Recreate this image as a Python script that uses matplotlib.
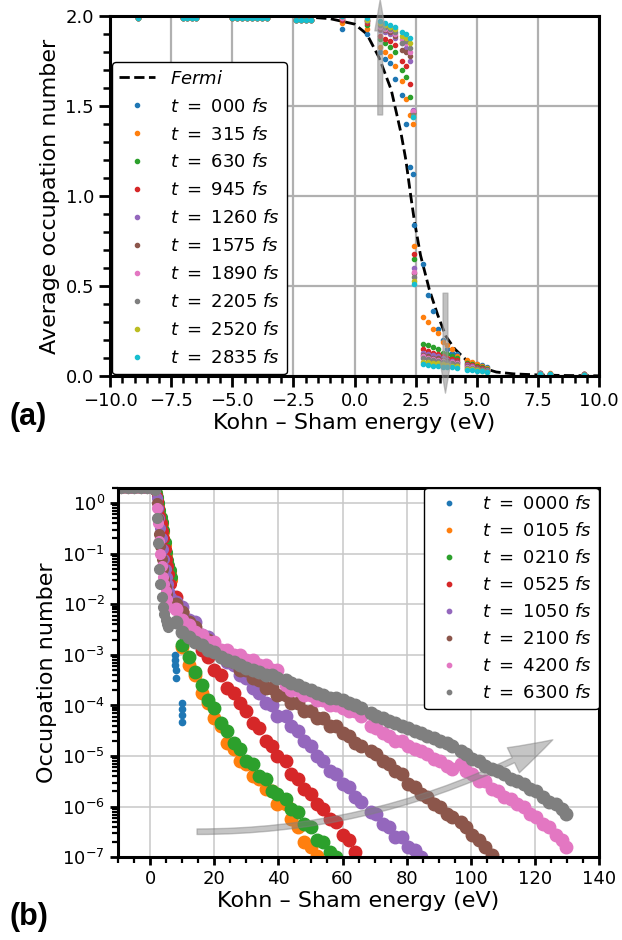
import numpy as np
import matplotlib
matplotlib.use("Agg")
import matplotlib.pyplot as plt
from matplotlib.ticker import MultipleLocator, LogLocator, NullFormatter
from matplotlib.patches import FancyArrowPatch

# ---------------- panel (a) data ----------------
top_labels = [r"$t\ =\ 000\ fs$", r"$t\ =\ 315\ fs$", r"$t\ =\ 630\ fs$",
              r"$t\ =\ 945\ fs$", r"$t\ =\ 1260\ fs$", r"$t\ =\ 1575\ fs$",
              r"$t\ =\ 1890\ fs$", r"$t\ =\ 2205\ fs$", r"$t\ =\ 2520\ fs$",
              r"$t\ =\ 2835\ fs$"]

fermi_E = [-10, -8, -6, -4, -2, -1, 0, 0.5, 1.0, 1.5, 1.9, 2.1, 2.3, 2.45, 2.7,
           3.06, 3.4, 3.74, 4.1, 4.56, 5.0, 5.8, 6.5, 7.5, 8.5, 10]
fermi_occ = [2.0, 2.0, 2.0, 2.0, 1.995, 1.985, 1.955, 1.9, 1.77, 1.59, 1.35, 1.2,
             1.0, 0.86, 0.67, 0.48, 0.34, 0.22, 0.15, 0.09, 0.055, 0.022, 0.012,
             0.006, 0.003, 0.001]

deep_E = [-8.86, -7.0, -6.85, -6.65, -6.5, -5.0, -4.8, -4.6, -4.4, -4.2, -4.0,
          -3.8, -3.6, -2.4, -2.2, -2.0, -1.8]
deep_occ = [1.99, 1.99, 1.99, 1.99, 1.99, 1.99, 1.99, 1.99, 1.99, 1.99, 1.99,
            1.99, 1.99, 1.98, 1.98, 1.98, 1.98]

val_E = [-0.5, 0.5, 1.05, 1.25, 1.45, 1.65, 1.95, 2.1, 2.25, 2.38, 2.42, 2.8, 3.0,
         3.2, 3.4, 3.6, 3.8, 4.0, 4.2, 4.6, 4.8, 5.0, 5.2, 5.4, 7.6, 8.0, 9.4]
occ_t000 = [1.93, 1.90, 1.80, 1.76, 1.74, 1.65, 1.56, 1.40, 1.16, 1.12, 0.84, 0.62, 0.45,
            0.36, 0.26, 0.20, 0.15, 0.13, 0.12, 0.085, 0.07, 0.065, 0.06, 0.05, 0.012, 0.01, 0.008]
occ_t315 = [1.96, 1.93, 1.83, 1.80, 1.78, 1.72, 1.64, 1.54, 1.45, 1.40, 0.72, 0.33, 0.30,
            0.26, 0.24, 0.19, 0.17, 0.15, 0.11, 0.09, 0.08, 0.065, 0.055, 0.045, 0.018, 0.015, 0.012]
occ_t630 = [1.98, 1.95, 1.87, 1.85, 1.83, 1.80, 1.70, 1.66, 1.55, 1.46, 0.65, 0.18, 0.17,
            0.16, 0.15, 0.13, 0.12, 0.11, 0.10, 0.07, 0.065, 0.055, 0.05, 0.04, 0.016, 0.013, 0.011]
occ_t945 = [1.98, 1.96, 1.89, 1.87, 1.86, 1.84, 1.75, 1.72, 1.62, 1.47, 0.68, 0.15, 0.14,
            0.13, 0.12, 0.11, 0.10, 0.095, 0.09, 0.065, 0.06, 0.05, 0.045, 0.035, 0.015, 0.012, 0.010]
occ_t1260 = [1.99, 1.97, 1.92, 1.91, 1.90, 1.88, 1.85, 1.82, 1.75, 1.48, 0.60, 0.13, 0.12,
             0.115, 0.11, 0.10, 0.09, 0.085, 0.08, 0.06, 0.055, 0.045, 0.04, 0.032, 0.014, 0.012, 0.01]
occ_t1575 = [1.99, 1.97, 1.93, 1.92, 1.91, 1.89, 1.81, 1.80, 1.78, 1.46, 0.57, 0.115, 0.11,
             0.10, 0.10, 0.09, 0.085, 0.08, 0.075, 0.055, 0.05, 0.042, 0.038, 0.03, 0.013, 0.011, 0.01]
occ_t1890 = [1.99, 1.98, 1.94, 1.93, 1.92, 1.90, 1.87, 1.85, 1.80, 1.47, 0.58, 0.11, 0.10,
             0.095, 0.09, 0.085, 0.08, 0.075, 0.07, 0.05, 0.048, 0.04, 0.035, 0.028, 0.012, 0.01, 0.009]
occ_t2205 = [2.0, 1.98, 1.95, 1.94, 1.93, 1.91, 1.85, 1.86, 1.82, 1.45, 0.55, 0.10, 0.095,
             0.09, 0.085, 0.08, 0.075, 0.07, 0.065, 0.045, 0.045, 0.038, 0.033, 0.026, 0.012, 0.01, 0.009]
occ_t2520 = [2.0, 1.98, 1.96, 1.95, 1.94, 1.93, 1.89, 1.88, 1.85, 1.44, 0.53, 0.08, 0.075,
             0.07, 0.07, 0.065, 0.06, 0.058, 0.055, 0.04, 0.04, 0.034, 0.03, 0.024, 0.011, 0.009, 0.008]
occ_t2835 = [2.0, 1.99, 1.97, 1.96, 1.95, 1.94, 1.91, 1.90, 1.88, 1.44, 0.51, 0.065, 0.06,
             0.058, 0.055, 0.052, 0.05, 0.048, 0.045, 0.035, 0.035, 0.03, 0.027, 0.022, 0.01, 0.009, 0.008]
top_series = [occ_t000, occ_t315, occ_t630, occ_t945, occ_t1260, occ_t1575,
              occ_t1890, occ_t2205, occ_t2520, occ_t2835]

# ---------------- panel (b) data ----------------
bot_labels = [r"$t\ =\ 0000\ fs$", r"$t\ =\ 0105\ fs$", r"$t\ =\ 0210\ fs$",
              r"$t\ =\ 0525\ fs$", r"$t\ =\ 1050\ fs$", r"$t\ =\ 2100\ fs$",
              r"$t\ =\ 4200\ fs$", r"$t\ =\ 6300\ fs$"]

steep_E = [-9.0, -7.0, -5.0, -3.0, -1.0, 0.5, 1.3, 1.6, 2.0, 2.4, 2.8, 3.2, 3.6, 4.0,
           4.4, 4.8, 5.2, 5.6, 6.0, 6.4, 6.8]
nan = np.nan
steep_t0000 = [2.0, 2.0, 2.0, 2.0, 2.0, 2.0, 2.0, 1.8, 1.58, 1.26, 1.0, 0.71, 0.5, 0.4,
               0.28, 0.16, 0.1, 0.071, 0.056, 0.045, 0.032]
steep_t0105 = [2.0, 2.0, 2.0, 2.0, 2.0, 2.0, 2.0, 1.8, 1.55, 1.2, 0.95, 0.68, 0.48, 0.38,
               0.27, 0.15, 0.095, 0.068, 0.052, 0.042, 0.03]
steep_t0210 = [2.0, 2.0, 2.0, 2.0, 2.0, 2.0, 2.0, 1.8, 1.6, 1.3, 1.02, 0.74, 0.52, 0.42,
               0.3, 0.17, 0.11, 0.075, 0.06, 0.048, 0.035]
steep_t0525 = [2.0, 2.0, 2.0, 2.0, 2.0, 2.0, 2.0, 1.8, 1.41, 1.12, 0.79, 0.56, 0.4, 0.28,
               0.2, 0.126, 0.079, 0.056, 0.04, 0.025, 0.014]
steep_t1050 = [2.0, 2.0, 2.0, 2.0, 2.0, 2.0, 2.0, 1.8, 1.26, 0.79, 0.5, 0.32, 0.2, 0.126,
               0.079, 0.05, 0.035, 0.025, 0.018, 0.014, nan]
steep_t2100 = [2.0, 2.0, 2.0, 2.0, 2.0, 2.0, 2.0, 1.8, 1.0, 0.5, 0.25, 0.14, 0.079, 0.05,
               0.032, 0.022, 0.016, 0.011, nan, nan, nan]
steep_t4200 = [2.0, 2.0, 2.0, 2.0, 2.0, 2.0, 2.0, 1.8, 0.79, 0.4, 0.18, 0.1, 0.056, 0.035,
               0.025, 0.018, 0.0126, 0.0089, nan, nan, nan]
steep_t6300 = [2.0, 2.0, 2.0, 2.0, 2.0, 2.0, 2.0, 1.8, 0.5, 0.16, 0.05, 0.025, 0.014, 0.0089,
               0.0063, 0.005, 0.004, 0.0035, nan, nan, nan]

tail_E = [8, 10, 12, 14, 16, 18, 20, 22, 24, 26, 28, 30, 32, 34, 36, 38, 39.5, 42.2,
          44, 46, 48, 50, 52, 54, 56, 58, 60, 62, 64, 65.9, 68.8, 70.5, 72.5, 74.5,
          76.5, 78.5, 80.5, 82.5, 84.5, 86.5, 88.5, 90.5, 92.5, 94.0, 96.8, 98.5,
          100.5, 102.5, 104.5, 106.5, 108.5, 110.5, 112.5, 114.5, 116.5, 118.5,
          120.5, 122.5, 124.5, 126.5, 128.5, 129.8]
blue_E = [7.7, 7.8, 7.8, 7.9, 7.9, 9.8, 9.9, 9.9, 10.0]
tail_t0000 = [1.0e-3, 7.9e-4, 6.3e-4, 5.0e-4, 3.5e-4, 1.1e-4, 8.5e-5, 6.5e-5, 4.8e-5]
tail_t0105 = [nan, 1.41e-3, 6.3e-4, 3.98e-4, 1.78e-4, 1.12e-4, 5.6e-5, 3.98e-5, 1.78e-5,
              1.41e-5, 7.9e-6, 7.1e-6, 4.0e-6, 3.55e-6, 2.24e-6, 2.0e-6, 1.12e-6, 1.12e-6,
              5.6e-7, 4.0e-7, 2.0e-7, 1.58e-7, 1.05e-7]
tail_t0210 = [nan, 1.58e-3, 8.9e-4, 4.5e-4, 2.5e-4, 1.26e-4, 8.9e-5, 4.5e-5, 3.16e-5,
              1.78e-5, 1.41e-5, 7.9e-6, 7.1e-6, 4.0e-6, 3.55e-6, 2.0e-6, 1.78e-6, 1.41e-6,
              8.9e-7, 7.9e-7, 4.5e-7, 4.0e-7, 2.24e-7, 2.0e-7, 1.26e-7, 1.0e-7]
tail_t0525 = [1.41e-2, 7.1e-3, 3.55e-3, 2.5e-3, 1.26e-3, 8.9e-4, 5.0e-4, 3.98e-4, 2.24e-4,
              1.78e-4, 1.12e-4, 7.9e-5, 4.5e-5, 3.55e-5, 2.0e-5, 1.58e-5, 1.0e-5, 7.9e-6,
              4.5e-6, 3.55e-6, 2.24e-6, 1.78e-6, 1.12e-6, 8.9e-7, 5.6e-7, 5.0e-7, 2.8e-7,
              2.24e-7, 1.26e-7]
tail_t1050 = [1.12e-2, 8.9e-3, 5.0e-3, 4.5e-3, 2.5e-3, 2.24e-3, 1.26e-3, 1.12e-3, 7.1e-4,
              6.3e-4, 3.98e-4, 3.55e-4, 2.24e-4, 1.78e-4, 1.12e-4, 1.0e-4, 6.3e-5, 6.3e-5,
              3.98e-5, 3.16e-5, 2.0e-5, 1.58e-5, 1.0e-5, 7.9e-6, 5.0e-6, 4.5e-6, 2.8e-6,
              2.5e-6, 1.58e-6, 1.26e-6, 7.9e-7, 7.1e-7, 4.5e-7, 4.0e-7, 2.5e-7, 2.5e-7,
              1.58e-7, 1.41e-7, 1.0e-7]
tail_t2100 = [1.0e-2, 7.1e-3, 4.5e-3, 3.55e-3, 2.24e-3, 2.0e-3, 1.26e-3, 1.12e-3, 7.9e-4,
              7.1e-4, 5.0e-4, 5.0e-4, 3.55e-4, 3.16e-4, 2.24e-4, 2.24e-4, 1.58e-4, 1.58e-4,
              1.12e-4, 1.12e-4, 7.9e-5, 7.9e-5, 5.6e-5, 5.6e-5, 3.98e-5, 3.98e-5, 2.8e-5,
              2.5e-5, 1.78e-5, 1.58e-5, 1.26e-5, 1.12e-5, 7.9e-6, 7.1e-6, 5.0e-6, 4.5e-6,
              2.8e-6, 2.5e-6, 1.78e-6, 1.58e-6, 1.12e-6, 1.0e-6, 7.1e-7, 6.3e-7, 5.0e-7,
              4.0e-7, 2.8e-7, 2.24e-7, 1.58e-7, 1.12e-7]
tail_t4200 = [7.9e-3, 5.0e-3, 3.98e-3, 2.8e-3, 2.5e-3, 1.78e-3, 1.78e-3, 1.26e-3, 1.26e-3,
              1.0e-3, 1.0e-3, 7.9e-4, 7.9e-4, 6.3e-4, 6.3e-4, 5.0e-4, 5.0e-4, 2.5e-4,
              2.0e-4, 2.0e-4, 1.58e-4, 1.58e-4, 1.26e-4, 1.26e-4, 1.0e-4, 1.0e-4, 8.9e-5,
              7.9e-5, 7.9e-5, 6.3e-5, 3.98e-5, 3.55e-5, 2.8e-5, 2.5e-5, 2.0e-5, 2.0e-5,
              1.58e-5, 1.41e-5, 1.26e-5, 1.12e-5, 8.9e-6, 7.9e-6, 6.3e-6, 5.6e-6, 7.1e-6,
              5.0e-6, 4.5e-6, 3.16e-6, 3.16e-6, 2.24e-6, 2.0e-6, 1.58e-6, 1.41e-6, 1.12e-6,
              1.0e-6, 7.1e-7, 6.3e-7, 4.5e-7, 4.0e-7, 2.8e-7, 2.24e-7, 1.58e-7]
tail_t6300 = [4.5e-3, 2.8e-3, 2.24e-3, 1.78e-3, 1.58e-3, 1.26e-3, 1.12e-3, 8.9e-4, 7.9e-4,
              7.1e-4, 6.3e-4, 5.6e-4, 5.0e-4, 4.5e-4, 3.98e-4, 3.98e-4, 3.55e-4, 3.16e-4,
              2.8e-4, 2.5e-4, 2.24e-4, 2.0e-4, 1.78e-4, 1.58e-4, 1.41e-4, 1.41e-4, 1.26e-4,
              1.12e-4, 1.0e-4, 8.9e-5, 7.1e-5, 6.3e-5, 5.6e-5, 5.0e-5, 4.5e-5, 3.98e-5,
              3.55e-5, 3.16e-5, 2.8e-5, 2.5e-5, 2.24e-5, 2.0e-5, 1.78e-5, 1.58e-5, 1.26e-5,
              1.12e-5, 8.9e-6, 7.9e-6, 6.3e-6, 5.6e-6, 5.0e-6, 4.5e-6, 3.55e-6, 3.16e-6,
              2.8e-6, 2.24e-6, 2.0e-6, 1.58e-6, 1.26e-6, 1.12e-6, 8.9e-7, 7.1e-7]
steep_series = [steep_t0000, steep_t0105, steep_t0210, steep_t0525, steep_t1050,
                steep_t2100, steep_t4200, steep_t6300]
tail_series = [tail_t0000, tail_t0105, tail_t0210, tail_t0525, tail_t1050,
               tail_t2100, tail_t4200, tail_t6300]

colors = ['#1f77b4', '#ff7f0e', '#2ca02c', '#d62728', '#9467bd', '#8c564b',
          '#e377c2', '#7f7f7f', '#bcbd22', '#17becf']

plt.rcParams['font.family'] = ['DejaVu Sans']
plt.rcParams['mathtext.fontset'] = 'dejavusans'

fig = plt.figure(figsize=(6.22, 9.4), dpi=100)
ax1 = fig.add_axes([0.177, 0.600, 0.786, 0.383])
ax2 = fig.add_axes([0.190, 0.088, 0.773, 0.393])

# ---------------- panel (a) ----------------
ax1.plot(fermi_E, fermi_occ, '--', color='k', lw=2, label=r'$Fermi$')
for lab, occ, c in zip(top_labels, top_series, colors):
    ax1.plot(deep_E + val_E, deep_occ + occ, linestyle='none', marker='o', ms=3,
             color=c, label=lab)
ax1.set_xlim(-10, 10)
ax1.set_ylim(0, 2)
ax1.xaxis.set_major_locator(MultipleLocator(2.5))
ax1.xaxis.set_minor_locator(MultipleLocator(0.5))
ax1.yaxis.set_major_locator(MultipleLocator(0.5))
ax1.yaxis.set_minor_locator(MultipleLocator(0.1))
ax1.grid(True, which='major', color='#b0b0b0', lw=1.6)
ax1.set_axisbelow(True)
ax1.tick_params(which='major', direction='out', length=8, width=2, labelsize=13)
ax1.tick_params(which='minor', direction='out', length=5, width=1.8)
for s in ax1.spines.values():
    s.set_linewidth(2.2)
ax1.set_xlabel('Kohn – Sham energy (eV)', fontsize=16, labelpad=2)
ax1.set_ylabel('Average occupation number', fontsize=16)
leg1 = ax1.legend(loc='lower left', bbox_to_anchor=(0, 0), borderaxespad=0.1,
                  fontsize=13, framealpha=1, edgecolor='black', labelspacing=0.55)
leg1.get_frame().set_linewidth(1.0)

for tail, tip in [((1.05, 1.45), (1.05, 2.09)), ((3.72, 0.46), (3.72, -0.095))]:
    arr = FancyArrowPatch(tail, tip, arrowstyle='simple,head_width=0.55,head_length=1.6,tail_width=0.25',
                          mutation_scale=14, color='#999999', alpha=0.6,
                          shrinkA=0, shrinkB=0, transform=ax1.transData, zorder=5)
    arr.set_clip_on(False)
    ax1.add_patch(arr)

# ---------------- panel (b) ----------------
for i, (lab, st, tl) in enumerate(zip(bot_labels, steep_series, tail_series)):
    c = colors[i]
    ax2.plot(steep_E, st, linestyle='none', marker='o', ms=7, color=c, label=lab)
    if i == 0:
        ax2.plot(blue_E, tl, linestyle='none', marker='o', ms=4.5, color=c)
    else:
        ax2.plot(tail_E[:len(tl)], tl, linestyle='none', marker='o', ms=9, color=c)
ax2.set_yscale('log')
ax2.set_xlim(-10, 140)
ax2.set_ylim(1e-7, 2)
ax2.xaxis.set_major_locator(MultipleLocator(20))
ax2.xaxis.set_minor_locator(MultipleLocator(5))
ax2.yaxis.set_major_locator(LogLocator(base=10, numticks=20))
ax2.yaxis.set_minor_locator(LogLocator(base=10, subs=np.arange(2, 10), numticks=20))
ax2.yaxis.set_minor_formatter(NullFormatter())
ax2.grid(True, which='major', color='#c8c8c8', lw=1.1)
ax2.set_axisbelow(True)
ax2.tick_params(which='major', direction='out', length=6, width=2, labelsize=13)
ax2.tick_params(which='minor', direction='out', length=4, width=1.6)
for s in ax2.spines.values():
    s.set_linewidth(2.2)
ax2.set_xlabel('Kohn – Sham energy (eV)', fontsize=16, labelpad=2)
ax2.set_ylabel('Occupation number', fontsize=16)
leg2 = ax2.legend(loc='upper right', borderaxespad=0.0, fontsize=13, framealpha=1,
                  edgecolor='black', labelspacing=0.5, markerscale=0.45)
leg2.get_frame().set_linewidth(1.0)

carr = FancyArrowPatch((14.6, 3.2e-7), (125.6, 2.1e-5), connectionstyle='arc3,rad=0.13',
                       arrowstyle='simple,head_width=1.0,head_length=1.6,tail_width=0.2',
                       mutation_scale=20, color='gray', alpha=0.45,
                       shrinkA=0, shrinkB=0, transform=ax2.transData, zorder=5)
ax2.add_patch(carr)

fig.text(0.016, 0.556, '(a)', fontsize=22, fontweight='bold', family='Liberation Sans',
         va='center', ha='left')
fig.text(0.016, 0.025, '(b)', fontsize=22, fontweight='bold', family='Liberation Sans',
         va='center', ha='left')

fig.savefig('out.png', dpi=100)
